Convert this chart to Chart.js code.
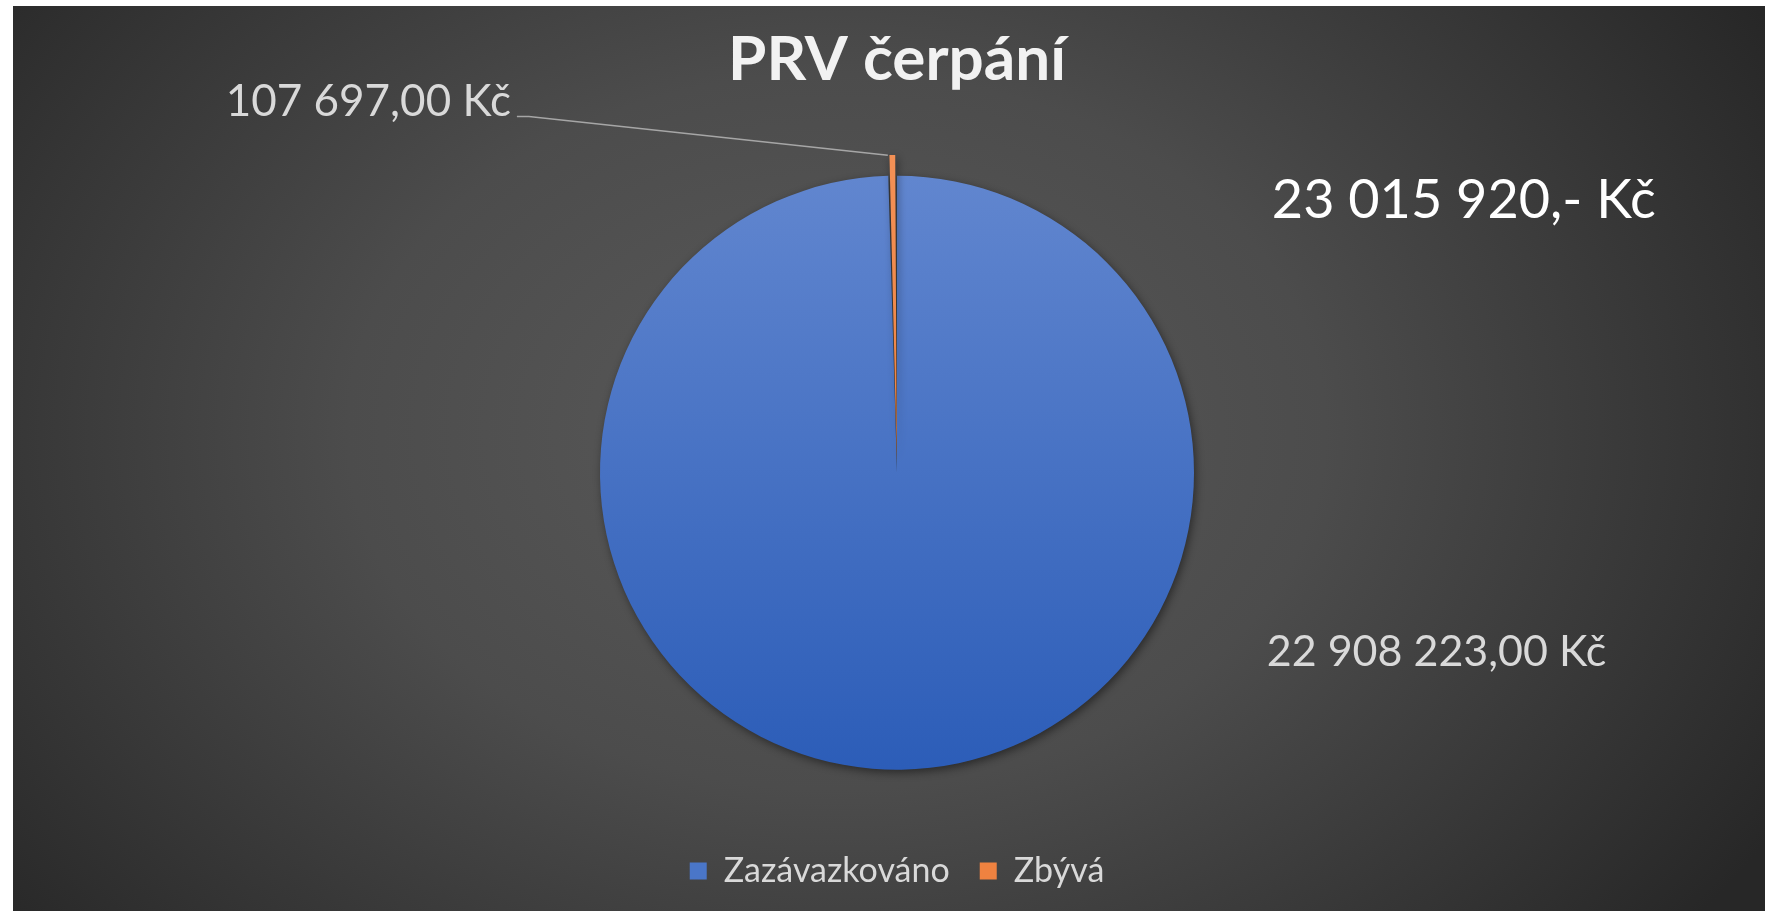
<!DOCTYPE html>
<html lang="cs">
<head>
<meta charset="utf-8">
<title>PRV čerpání</title>
<script src="https://cdn.jsdelivr.net/npm/chart.js@4.4.1/dist/chart.umd.min.js"></script>
<style>
    html, body { margin: 0; padding: 0; background: #fff; width: 1765px; height: 911px; overflow: hidden; }
    #wrap {
        position: absolute; left: 13px; top: 6px; width: 1752px; height: 905px;
        background: radial-gradient(ellipse 62% 88% at 47% 47%, #5a5a5a 0%, #4c4c4c 45%, #272727 100%);
    }
</style>
</head>
<body>
<div id="wrap"><canvas id="prvChart"></canvas></div>
<script>
// chart data
const categories = ['Zazávazkováno', 'Zbývá'];
const amounts = [22908223, 107697];
const legendColors = ['#4a76c8', '#ef8240'];

// "22 908 223,00 Kč"
function formatKc(value) {
    const parts = value.toFixed(2).split('.');
    return parts[0].replace(/\B(?=(\d{3})+(?!\d))/g, ' ') + ',' + parts[1] + ' Kč';
}
function formatTotal(value) {
    return Math.round(value).toString().replace(/\B(?=(\d{3})+(?!\d))/g, ' ') + ',- Kč';
}

const PIE_RADIUS = 297;
const SLICE_OFFSET = 42;

function sliceFill(context) {
    const chart = context.chart;
    const area = chart.chartArea;
    if (!area) return legendColors[context.dataIndex];
    const cy = (area.top + area.bottom) / 2;
    const g = chart.ctx.createLinearGradient(0, cy - PIE_RADIUS, 0, cy + PIE_RADIUS);
    if (context.dataIndex === 0) {
        g.addColorStop(0, '#6186cf');
        g.addColorStop(1, '#2c5db8');
    } else {
        g.addColorStop(0, '#f39055');
        g.addColorStop(1, '#e9762c');
    }
    return g;
}

const labelPlugin = {
    id: 'prvLabels',
    beforeDatasetsDraw(chart) {
        const ctx = chart.ctx;
        ctx.save();
        ctx.shadowColor = 'rgba(0, 0, 0, 0.45)';
        ctx.shadowBlur = 9;
        ctx.shadowOffsetX = 2;
        ctx.shadowOffsetY = 3;
    },
    afterDatasetsDraw(chart) {
        const ctx = chart.ctx;
        ctx.restore();
        const meta = chart.getDatasetMeta(0);
        const big = meta.data[0];
        const small = meta.data[1];
        const cx = big.x, cy = big.y, r = big.outerRadius;

        ctx.save();
        ctx.fillStyle = '#d9d9d9';
        ctx.textBaseline = 'middle';

        // value of the big slice, lower right
        ctx.font = '43px Lato';
        ctx.textAlign = 'left';
        ctx.fillText(formatKc(amounts[0]), cx + r * 1.245, cy + r * 0.605);

        // value of the small slice, upper left with leader line
        const lx = cx - r * 1.30;
        const ly = cy - r * 1.25;
        ctx.font = '44px Lato';
        ctx.textAlign = 'right';
        ctx.fillText(formatKc(amounts[1]), lx, ly);

        // tip of the exploded slice (same maths as ArcElement.draw)
        const off = (small.options.offset || 0) / 4;
        const mid = (small.startAngle + small.endAngle) / 2;
        const fix = 1 - Math.sin(Math.min(Math.PI, small.circumference));
        const tipR = small.outerRadius + off * fix;
        const tx = cx + Math.cos(mid) * off + Math.cos(small.startAngle) * tipR;
        const ty = cy + Math.sin(mid) * off + Math.sin(small.startAngle) * tipR;

        ctx.strokeStyle = '#a6a6a6';
        ctx.lineWidth = 1.5;
        ctx.beginPath();
        ctx.moveTo(lx + 6, ly + 15);
        ctx.lineTo(lx + 18, ly + 15);
        ctx.lineTo(tx, ty);
        ctx.stroke();

        // total amount
        const total = amounts.reduce((a, b) => a + b, 0);
        ctx.font = '54px Lato';
        ctx.fillStyle = '#ffffff';
        ctx.textAlign = 'left';
        ctx.fillText(formatTotal(total), cx + r * 1.262, cy - r * 0.915);
        ctx.restore();
    }
};

document.addEventListener('DOMContentLoaded', function () {
    const canvas = document.getElementById('prvChart');

    new Chart(canvas, {
        type: 'pie',
        data: {
            labels: categories,
            datasets: [{
                data: amounts,
                backgroundColor: sliceFill,
                borderWidth: 0,
                offset: [0, SLICE_OFFSET]
            }]
        },
        options: {
            responsive: true,
            maintainAspectRatio: false,
            animation: false,
            radius: PIE_RADIUS,
            layout: { padding: { left: 16, right: 0, top: 0, bottom: 13 } },
            plugins: {
                title: {
                    display: true,
                    text: 'PRV čerpání',
                    color: '#f2f2f2',
                    font: { family: 'Lato', size: 62, weight: 'bold' },
                    padding: { top: 17, bottom: 24 }
                },
                legend: {
                    position: 'bottom',
                    labels: {
                        color: '#d9d9d9',
                        font: { family: 'Lato', size: 34 },
                        boxWidth: 17,
                        boxHeight: 17,
                        padding: 30,
                        generateLabels: () => categories.map((c, i) => ({
                            text: c,
                            fillStyle: legendColors[i],
                            strokeStyle: legendColors[i],
                            lineWidth: 0,
                            fontColor: '#d9d9d9',
                            hidden: false,
                            index: i
                        }))
                    }
                },
                tooltip: { enabled: false }
            }
        },
        plugins: [labelPlugin]
    });
});
</script>
</body>
</html>
